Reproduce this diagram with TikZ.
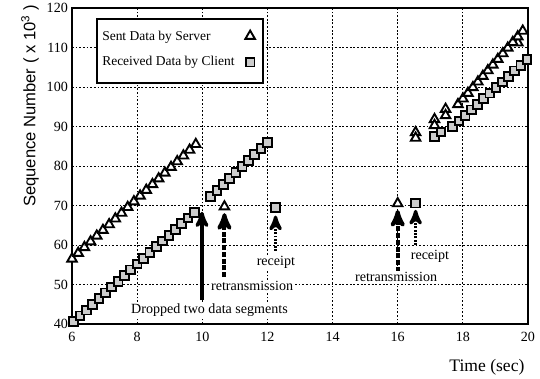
\documentclass[tikz,border=0pt]{standalone}
\usepackage{fontspec}
\setmainfont{Liberation Serif}
\setsansfont{Liberation Sans}
\usetikzlibrary{arrows,shapes.geometric}

\begin{document}
\begin{tikzpicture}[x=0.8143cm,y=0.09875cm,>=stealth',font=\fontsize{10}{12}\selectfont,
  grid/.style={line width=0.6pt,dash pattern=on 1.3pt off 1.3pt},
  sent/.style={draw,regular polygon,regular polygon sides=3,minimum size=7.8pt,inner sep=0pt,line width=1.35pt,fill=white},
  recv/.style={draw,rectangle,minimum size=6.2pt,inner sep=0pt,line width=1.35pt,fill=gray!40},
  lab/.style={fill=white,inner sep=1pt},
  solidhint/.style={->,line width=2.5pt},
  dashhint/.style={->,line width=2.8pt,dash pattern=on 3.5pt off 1.3pt},
  dothint/.style={->,line width=2.4pt,dash pattern=on 1.3pt off 1.1pt}]
 \useasboundingbox (3.789,26.08) rectangle (20.369,122.03);

 % grid and frame
 \foreach \t in {8,10,...,18} \draw[grid] (\t,40) -- (\t,120);
 \foreach \s in {50,60,...,110} \draw[grid] (6,\s) -- (20,\s);
 \draw[line width=1pt] (6,40) rectangle (20,120);

 \foreach \t in {6,8,...,20} \node (xt\t) at (\t,36.7) {\t};
 \foreach \s in {40,50,...,120} \node[anchor=east,inner sep=0pt] (yt\s) at (5.88,\s) {\s};
 \node[rotate=90,font=\sffamily\fontsize{11.8}{14}\selectfont] (ylab) at (4.71,95.2) {Sequence Number ( x 10\textsuperscript{3} )};
 \node[font=\fontsize{12.5}{14}\selectfont] (xlab) at (18.74,29.1) {Time (sec)};

 % legend
 \draw[fill=white,line width=1pt] (6.77,101) rectangle (11.86,117.2);
 \node[anchor=west,inner sep=0pt,font=\fontsize{9.6}{12}\selectfont] (keysnd) at (6.92,112.7) {Sent Data by Server};
 \node[anchor=west,inner sep=0pt,font=\fontsize{9.6}{12}\selectfont] (keyrcv) at (6.92,106.3) {Received Data by Client};
 \node[sent] (keysndmark) at (11.47,112.9) {};
 \node[recv] (keyrcvmark) at (11.47,106.3) {};

 % first burst
 \foreach \i in {0,...,20} \node[sent] (snd\i) at (6+0.19*\i,56.5+1.45*\i) {};
 \foreach \i in {0,...,19} \node[recv] (rcv\i) at (6.05+0.195*\i,40.6+1.458*\i) {};
 \foreach \i in {0,...,9} \node[recv] (rcvb\i) at (10.26+0.193*\i,72.3+1.52*\i) {};
 \node[sent] (rtx1) at (10.68,69.7) {};
 \node[recv] (ack1) at (12.25,69.5) {};

 % second burst
 \node[sent] (rtx2) at (16.0,70.5) {};
 \node[recv] (ack2) at (16.55,70.6) {};
 \foreach \t/\s [count=\i] in {16.55/88.5,16.55/87.1,17.13/91.8,17.13/90.3,17.47/94.4,17.47/92.8,19.69/111.2}
   \node[sent] (sndc\i) at (\t,\s) {};
 \foreach \i in {0,...,13} \node[sent] (sndd\i) at (17.85+0.153*\i,95.6+1.43*\i) {};
 \node[recv] (rcvc1) at (17.13,87.4) {};
 \node[recv] (rcvc2) at (17.33,88.6) {};
 \foreach \i in {0,...,12} \node[recv] (rcvd\i) at (17.69+0.19*\i,90.0+1.408*\i) {};

 % annotations
 \coordinate (dropA) at (9.99,46);
 \coordinate (dropB) at (9.99,68.4);
 \coordinate (rtxA) at (10.68,51.9);
 \coordinate (ackA) at (12.25,58.5);
 \coordinate (rtxB) at (16.0,53.2);
 \coordinate (ackB) at (16.55,60);

 \draw[solidhint] (dropA) -- (dropB);
 \draw[dashhint,shorten >=2pt] (rtxA) -- (rtx1.south);
 \draw[dothint,shorten >=2pt] (ackA) -- (ack1.south);
 \draw[dashhint,shorten >=2pt] (rtxB) -- (rtx2.south);
 \draw[dothint,shorten >=1pt] (ackB) -- (ack2.south);

 \node[lab] (droplab) at (10.22,43.5) {Dropped two data segments};
 \node[lab] (rtxlab1) at (11.53,49.6) {retransmission};
 \node[lab] (acklab1) at (12.26,55.5) {receipt};
 \node[lab] (rtxlab2) at (15.95,51.8) {retransmission};
 \node[lab] (acklab2) at (16.99,57.2) {receipt};
\end{tikzpicture}
\end{document}
